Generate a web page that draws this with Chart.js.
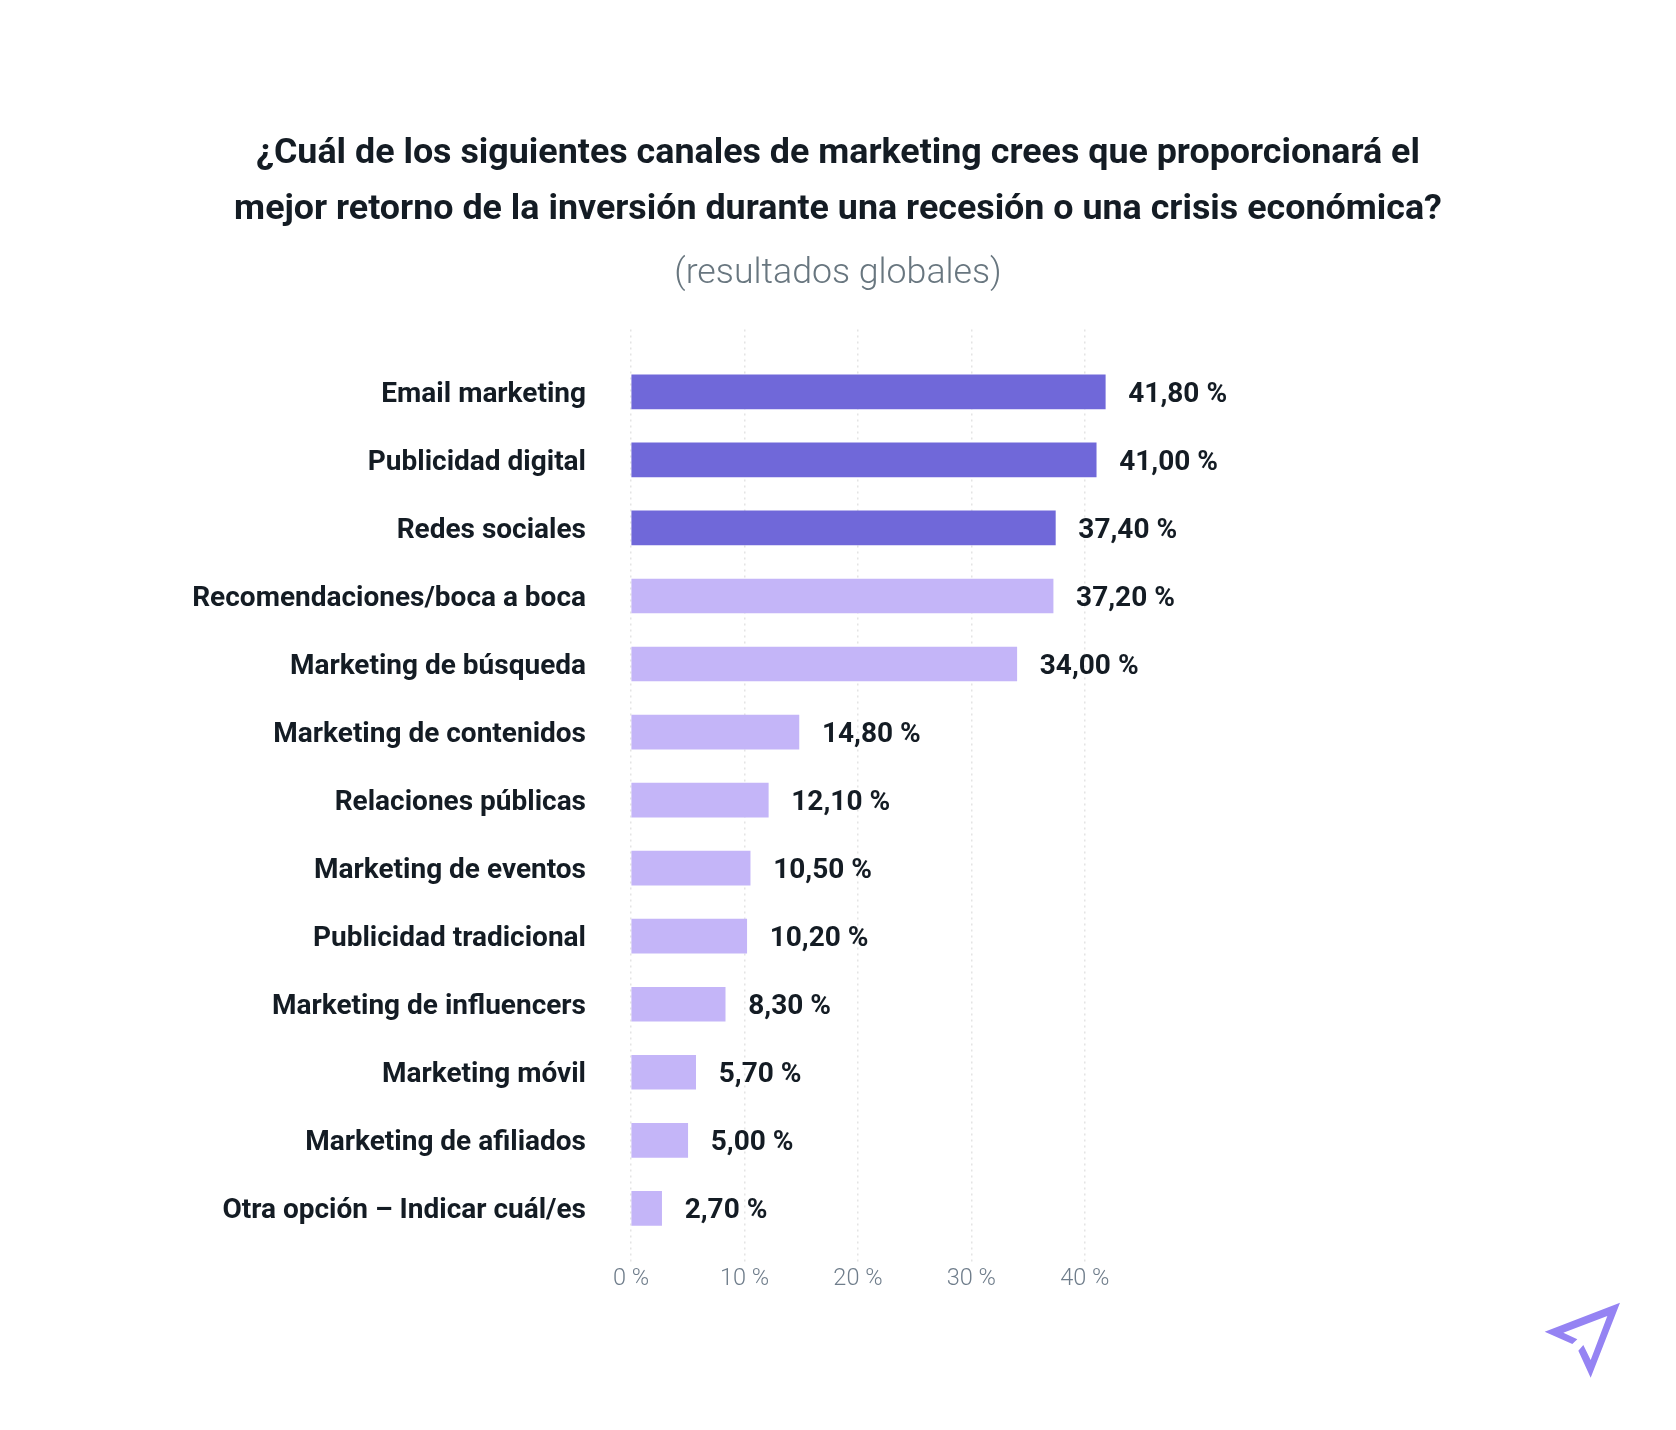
<!DOCTYPE html>
<html lang="es"><head><meta charset="utf-8">
<style>html,body{margin:0;padding:0;background:#fff}#w{position:relative;width:1676px;height:1430px}svg{position:absolute;left:1520px;top:1280px}</style>
<script src="https://cdn.jsdelivr.net/npm/chart.js@4"></script></head>
<body><div id="w"><canvas id="c" width="1676" height="1430"></canvas>
<svg width="130" height="130" viewBox="0 0 390 390"><polygon fill="#9583f3" points="300,68 212,293 175,212 190,195 212,240 262,108 130,158 172,178 157,192 74,155"/></svg></div>
<script>
const categories=["Email marketing","Publicidad digital","Redes sociales","Recomendaciones/boca a boca","Marketing de búsqueda","Marketing de contenidos","Relaciones públicas","Marketing de eventos","Publicidad tradicional","Marketing de influencers","Marketing móvil","Marketing de afiliados","Otra opción – Indicar cuál/es"];
const values=[41.8,41.0,37.4,37.2,34.0,14.8,12.1,10.5,10.2,8.3,5.7,5.0,2.7];
const valueLabels=["41,80 %","41,00 %","37,40 %","37,20 %","34,00 %","14,80 %","12,10 %","10,50 %","10,20 %","8,30 %","5,70 %","5,00 %","2,70 %"];
const xTicks=[0,10,20,30,40];
const titleLines=["¿Cuál de los siguientes canales de marketing crees que proporcionará el","mejor retorno de la inversión durante una recesión o una crisis económica?"];
const subtitleText="(resultados globales)";
const DARK="#7068d9",LIGHT="#c4b5f8",INK="#141c24",GREY="#6f7d8b";
Chart.defaults.font.family="Roboto";
const labelPlugin={id:"valueLabels",afterDatasetsDraw(ch){
  const c=ch.ctx,m=ch.getDatasetMeta(0);
  c.save();c.font="700 28px Roboto";c.fillStyle=INK;c.textAlign="left";c.textBaseline="middle";
  m.data.forEach((b,i)=>c.fillText(valueLabels[i],b.x+23,b.y+3));
  c.restore();
}};
new Chart(document.getElementById("c"),{
  type:"bar",
  data:{datasets:[{data:values.map((v,i)=>({x:v,y:i})),
    backgroundColor:values.map((v,i)=>i<3?DARK:LIGHT),barThickness:34,borderWidth:0}]},
  options:{indexAxis:"y",responsive:false,animation:false,
    layout:{padding:{left:0,right:0,top:126.5,bottom:0}},
    plugins:{legend:{display:false},tooltip:{enabled:false},
      title:{display:true,text:titleLines,color:INK,font:{size:35.85,weight:"700",family:"Roboto",lineHeight:55.8/35.85},padding:{top:0,bottom:0}},
      subtitle:{display:true,text:subtitleText,color:"#68767f",font:{size:35.7,weight:"300",family:"Roboto"},padding:{top:15,bottom:33.5}}},
    scales:{
      x:{type:"linear",min:0,max:92.1,
        afterBuildTicks(s){s.ticks=xTicks.map(v=>({value:v}));},
        afterFit(s){s.height=165;},
        border:{display:false,dash:[2,4]},
        grid:{drawTicks:false,color:"#e4e4e4",lineWidth:1.5},
        ticks:{padding:0,color:GREY,font:{size:23.5,weight:"300",family:"Roboto"},maxRotation:0,callback:v=>v+" %"}},
      y:{type:"linear",reverse:true,offset:false,min:-0.9166,max:12.832,
        afterBuildTicks(s){s.ticks=categories.map((_,i)=>({value:i}));},
        afterFit(s){s.width=631;},
        border:{display:false},
        grid:{display:false,drawTicks:false,offset:false},
        ticks:{padding:45,labelOffset:3,color:INK,autoSkip:false,font:{size:28,weight:"700",family:"Roboto"},callback:(v)=>categories[v]}}
    }},
  plugins:[labelPlugin]});
</script></body></html>
